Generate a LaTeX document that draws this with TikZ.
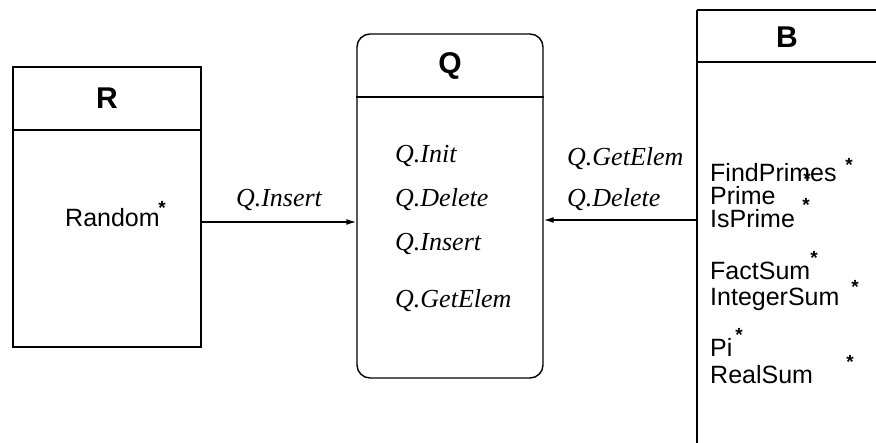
\documentclass[tikz,border=0pt]{standalone}
\usepackage{fontspec}
\setmainfont{Liberation Serif}
\setsansfont{Liberation Sans}
\usetikzlibrary{arrows.meta}
\begin{document}
\begin{tikzpicture}[x=1pt,y=-1pt,
  frame/.style={draw,line width=1.4pt},
  title/.style={font=\fontsize{30}{32}\selectfont\sffamily\bfseries,anchor=center,inner sep=0pt},
  item/.style={font=\fontsize{25}{27}\selectfont\sffamily,anchor=base west,inner sep=0pt},
  op/.style={font=\fontsize{26}{28}\selectfont\itshape,anchor=base west,inner sep=0pt},
  star/.style={font=\fontsize{19}{20}\selectfont\sffamily\bfseries,anchor=base,inner sep=0pt},
  call/.style={line width=1.4pt,-{Latex[length=10pt,width=6pt]}}]
\useasboundingbox (0,0) rectangle (876,443);

% module boxes
\node[frame,minimum width=188pt,minimum height=280pt,inner sep=0pt] (R) at (107,207) {};
\node[frame,rounded corners=13pt,minimum width=186pt,minimum height=344pt,inner sep=0pt] (Q) at (450,206) {};
\draw[frame] (R.west |- 0,130) -- (R.east |- 0,130);
\draw[frame] (Q.west |- 0,97) -- (Q.east |- 0,97);

% module B runs past the page edge
\coordinate (Btl) at (697,10);
\draw[frame] (Btl) -- (880,10);
\draw[frame] (Btl) -- (697,450);
\draw[frame] (697,62) -- (880,62);

% headers
\node[title] (Rt) at (107,98) {R};
\node[title] (Qt) at (450,66) {Q};
\node[title] (Bt) at (787,37) {B};

% contents of R
\node[item] (rand) at (65,227) {Random};
\node[star] at (162,215) {*};

% contents of Q
\node[op] (qinit) at (395,163) {Q.Init};
\node[op] (qdel) at (395,207) {Q.Delete};
\node[op] (qins) at (395,251) {Q.Insert};
\node[op] (qget) at (395,308) {Q.GetElem};

% contents of B
\node[item] (b1) at (710,182) {FindPrimes};
\node[item] (b2) at (710,205) {Prime};
\node[item] (b3) at (710,228) {IsPrime};
\node[item] (b4) at (710,280) {FactSum};
\node[item] (b5) at (710,306) {IntegerSum};
\node[item] (b6) at (710,357) {Pi};
\node[item] (b7) at (710,384) {RealSum};
\node[star] at (849,172) {*};
\node[star] at (807,186) {*};
\node[star] at (806,212) {*};
\node[star] at (814,265) {*};
\node[star] at (855,294) {*};
\node[star] at (739,342) {*};
\node[star] at (850,369) {*};

% calls between modules
\coordinate (bout) at (697,220);
\draw[call] (R.east |- 0,222) -- (Q.west |- 0,222)
  node[op,anchor=base,pos=0.5,yshift=15pt] (lins) {Q.Insert};
\draw[call] (bout) -- (Q.east |- bout);
\node[op] (lget) at (567,166) {Q.GetElem};
\node[op] (ldel) at (567,207) {Q.Delete};
\end{tikzpicture}
\end{document}
